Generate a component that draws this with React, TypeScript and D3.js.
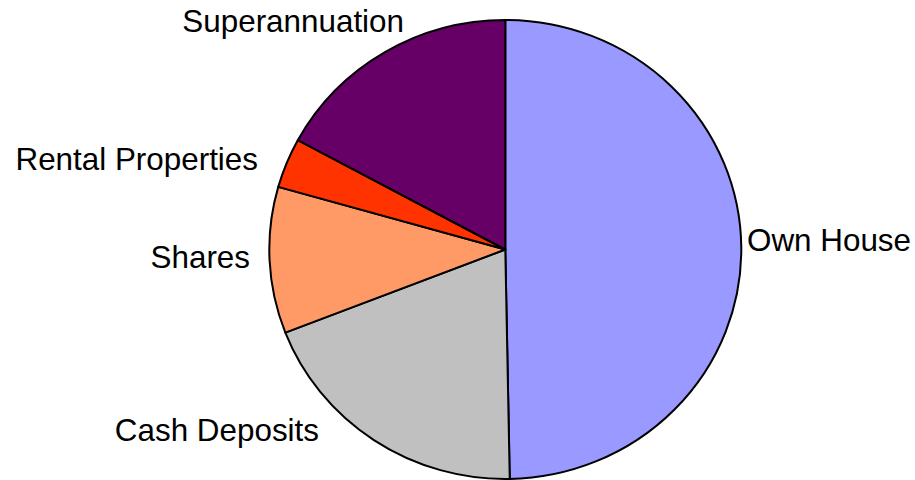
import React from "react";
import * as d3 from "d3";

const categories = ["Own House", "Cash Deposits", "Shares", "Rental Properties", "Superannuation"];
const values = [49.7, 19.4, 10.3, 3.5, 17.1];
const colors = ["#9999FF", "#C0C0C0", "#FF9966", "#FF3300", "#660066"];

const W = 915;
const H = 480;
const cx = 505.3;
const cy = 249.5;
const rx = 236;
const ry = 229.5;

const labelPos: Record<string, { x: number; y: number; anchor: string }> = {
  "Own House": { x: 747, y: 251, anchor: "start" },
  "Cash Deposits": { x: 319, y: 441, anchor: "end" },
  "Shares": { x: 250, y: 268, anchor: "end" },
  "Rental Properties": { x: 258, y: 170, anchor: "end" },
  "Superannuation": { x: 404, y: 32, anchor: "end" },
};

export default function App() {
  const pie = d3.pie<number>().sort(null).value((d) => d);
  const arcs = pie(values);
  const arc = d3.arc<d3.PieArcDatum<number>>().innerRadius(0).outerRadius(rx);
  return (
    <svg width={W} height={H} style={{ position: "absolute", left: 0, top: 0 }}>
      <rect width={W} height={H} fill="#fff" />
      <g transform={`translate(${cx},${cy}) scale(1,${ry / rx})`}>
        {arcs.map((a, i) => (
          <path
            key={categories[i]}
            d={arc(a) || ""}
            fill={colors[i]}
            stroke="#000"
            strokeWidth={2}
            strokeLinejoin="round"
            vectorEffect="non-scaling-stroke"
          />
        ))}
      </g>
      {categories.map((c) => (
        <text
          key={c}
          x={labelPos[c].x}
          y={labelPos[c].y}
          textAnchor={labelPos[c].anchor as any}
          fontFamily="Liberation Sans, Arial, sans-serif"
          fontSize={31.4}
          fill="#000"
        >
          {c}
        </text>
      ))}
    </svg>
  );
}
